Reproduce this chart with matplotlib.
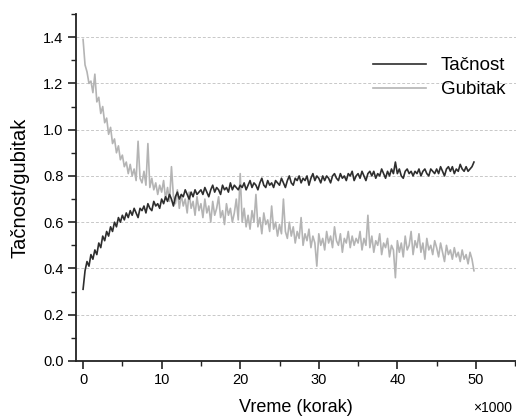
import numpy as np
import matplotlib
matplotlib.use("Agg")
import matplotlib.pyplot as plt
from matplotlib.ticker import MultipleLocator, FormatStrFormatter

# training step (x1000), read every 0.25k off the reference
steps = np.arange(200) * 0.25

tacnost = [
    0.31, 0.39, 0.43, 0.41, 0.46, 0.44, 0.48, 0.46, 0.51, 0.49, 0.54, 0.52, 0.56, 0.54, 0.58, 0.56, 0.60, 0.58, 0.62, 0.60,
    0.63, 0.61, 0.64, 0.62, 0.65, 0.63, 0.66, 0.64, 0.62, 0.66, 0.65, 0.67, 0.64, 0.68, 0.66, 0.65, 0.69, 0.67, 0.68, 0.66,
    0.70, 0.68, 0.71, 0.69, 0.72, 0.70, 0.67, 0.71, 0.73, 0.70, 0.72, 0.71, 0.74, 0.72, 0.70, 0.73, 0.71, 0.74, 0.72, 0.73,
    0.74, 0.72, 0.75, 0.73, 0.71, 0.74, 0.76, 0.73, 0.75, 0.74, 0.72, 0.76, 0.74, 0.75, 0.73, 0.77, 0.74, 0.76, 0.75, 0.74,
    0.76, 0.75, 0.77, 0.74, 0.76, 0.78, 0.75, 0.77, 0.76, 0.74, 0.77, 0.79, 0.76, 0.75, 0.78, 0.76, 0.77, 0.75, 0.78, 0.77,
    0.76, 0.79, 0.77, 0.75, 0.78, 0.80, 0.77, 0.76, 0.79, 0.78, 0.80, 0.77, 0.79, 0.78, 0.80, 0.76, 0.79, 0.81, 0.78, 0.80,
    0.79, 0.77, 0.80, 0.78, 0.80, 0.79, 0.77, 0.80, 0.81, 0.79, 0.78, 0.81, 0.79, 0.80, 0.78, 0.81, 0.80, 0.82, 0.78, 0.80,
    0.81, 0.79, 0.82, 0.80, 0.78, 0.81, 0.82, 0.80, 0.82, 0.79, 0.81, 0.80, 0.83, 0.81, 0.79, 0.82, 0.80, 0.83, 0.81, 0.86,
    0.81, 0.83, 0.80, 0.79, 0.82, 0.83, 0.81, 0.82, 0.80, 0.82, 0.81, 0.83, 0.80, 0.82, 0.83, 0.81, 0.80, 0.83, 0.82, 0.81,
    0.83, 0.81, 0.84, 0.82, 0.80, 0.83, 0.84, 0.82, 0.84, 0.81, 0.83, 0.82, 0.85, 0.83, 0.82, 0.84, 0.82, 0.83, 0.84, 0.86,
]

gubitak = [
    1.39, 1.28, 1.25, 1.20, 1.21, 1.16, 1.24, 1.12, 1.14, 1.07, 1.10, 1.03, 1.05, 0.98, 1.01, 0.94, 0.96, 0.90, 0.93, 0.87,
    0.89, 0.84, 0.86, 0.81, 0.85, 0.80, 0.83, 0.78, 0.95, 0.79, 0.77, 0.82, 0.76, 0.94, 0.75, 0.79, 0.74, 0.77, 0.72, 0.76,
    0.73, 0.78, 0.70, 0.75, 0.69, 0.84, 0.71, 0.68, 0.74, 0.66, 0.72, 0.67, 0.70, 0.64, 0.73, 0.66, 0.69, 0.63, 0.71, 0.65,
    0.68, 0.62, 0.70, 0.64, 0.67, 0.60, 0.69, 0.63, 0.66, 0.71, 0.62, 0.65, 0.59, 0.68, 0.63, 0.66, 0.60, 0.64, 0.70, 0.61,
    0.81, 0.60, 0.66, 0.58, 0.63, 0.57, 0.65, 0.60, 0.72, 0.58, 0.62, 0.55, 0.64, 0.59, 0.61, 0.56, 0.67, 0.57, 0.60, 0.54,
    0.59, 0.55, 0.70, 0.56, 0.53, 0.60, 0.54, 0.58, 0.51, 0.56, 0.53, 0.62, 0.50, 0.55, 0.52, 0.57, 0.49, 0.54, 0.51, 0.41,
    0.55, 0.50, 0.53, 0.48, 0.56, 0.51, 0.54, 0.49, 0.58, 0.52, 0.50, 0.55, 0.47, 0.53, 0.51, 0.56, 0.49, 0.54, 0.50, 0.53,
    0.51, 0.56, 0.48, 0.53, 0.50, 0.63, 0.49, 0.54, 0.47, 0.52, 0.50, 0.55, 0.46, 0.51, 0.49, 0.53, 0.45, 0.50, 0.48, 0.36,
    0.52, 0.47, 0.51, 0.45, 0.54, 0.48, 0.50, 0.56, 0.46, 0.52, 0.49, 0.55, 0.47, 0.51, 0.44, 0.53, 0.48, 0.50, 0.46, 0.52,
    0.49, 0.45, 0.51, 0.47, 0.43, 0.50, 0.46, 0.48, 0.44, 0.49, 0.45, 0.47, 0.43, 0.48, 0.44, 0.46, 0.42, 0.47, 0.44, 0.39,
]

plt.rcParams["font.family"] = ["Liberation Sans", "DejaVu Sans"]

fig = plt.figure(figsize=(5.16, 4.18), dpi=100)
ax = fig.add_axes([76 / 516, 57 / 418, 440 / 516, 347 / 418])

ax.plot(steps, tacnost, color="#2e2e2e", lw=1.2, label="Tačnost", zorder=3)
ax.plot(steps, gubitak, color="#b4b4b4", lw=1.2, label="Gubitak", zorder=2)

ax.set_xlim(-0.9, 55.1)
ax.set_ylim(0, 1.5)
ax.xaxis.set_major_locator(MultipleLocator(10))
ax.xaxis.set_minor_locator(MultipleLocator(5))
ax.yaxis.set_major_locator(MultipleLocator(0.2))
ax.yaxis.set_minor_locator(MultipleLocator(0.1))
ax.yaxis.set_major_formatter(FormatStrFormatter("%.1f"))
ax.tick_params(which="major", direction="out", length=6, width=1.2, labelsize=10.5, color="#222222", pad=3)
ax.tick_params(which="minor", direction="out", length=3.5, width=1.0, color="#222222")
ax.grid(axis="y", which="major", ls=(0, (3, 2)), lw=0.7, color="#c8c8c8", zorder=0)
for s in ("top", "right"):
    ax.spines[s].set_visible(False)
for s in ("left", "bottom"):
    ax.spines[s].set_linewidth(1.3)
    ax.spines[s].set_color("#222222")

ax.set_xlabel("Vreme (korak)", fontsize=13, labelpad=8)
ax.set_ylabel("Tačnost/gubitak", fontsize=14.5, labelpad=10)
fig.text(0.992, 0.008, "×1000", ha="right", va="bottom", fontsize=10)

ax.legend(loc="upper left", bbox_to_anchor=(364 / 516, 1 - 48 / 418), bbox_transform=fig.transFigure,
          frameon=False, fontsize=13.5, handlelength=2.8, handletextpad=0.8, labelspacing=0.35, borderpad=0)

fig.savefig("out.png", dpi=100)
